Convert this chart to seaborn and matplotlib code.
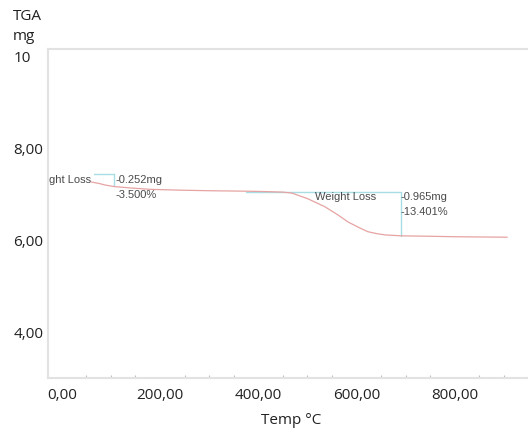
import matplotlib
matplotlib.use("Agg")
import matplotlib.pyplot as plt
from matplotlib.ticker import FixedLocator, FixedFormatter, MultipleLocator
import numpy as np
import pandas as pd
import seaborn as sns

# TGA trace: temperature (°C) and sample mass (mg)
temp_c = [60, 75, 90, 107, 140, 180, 250, 300, 375, 420, 450, 468, 500, 536,
          560, 583, 605, 623, 640, 658, 690, 750, 800, 850, 907]
mass_mg = [7.28, 7.25, 7.21, 7.18, 7.15, 7.12, 7.10, 7.09, 7.08, 7.07, 7.06,
           7.04, 6.92, 6.74, 6.58, 6.41, 6.29, 6.20, 6.16, 6.13, 6.11, 6.10,
           6.09, 6.085, 6.08]

# weight-loss steps: start/end temperature, level before the step, loss
step_t0 = [-40, 375]
step_t1 = [107, 690]
step_top = [7.45, 7.07]
step_loss_mg = [0.252, 0.965]
step_loss_pct = [3.500, 13.401]

y_ticks = [10, 8, 6, 4]
y_tick_labels = ["10", "8,00", "6,00", "4,00"]
x_ticks = [0, 200, 400, 600, 800]
x_tick_labels = ["0,00", "200,00", "400,00", "600,00", "800,00"]

sns.set_theme(style="white")
plt.rcParams["font.family"] = ["Open Sans", "DejaVu Sans"]

fig = plt.figure(figsize=(5.28, 4.28), dpi=100)
ax = fig.add_axes([48 / 528, 1 - 378 / 428, 1 - 48 / 528 + 0.01, (378 - 49) / 428])

df = pd.DataFrame({"Temp": temp_c, "Mass": mass_mg})
sns.lineplot(data=df, x="Temp", y="Mass", ax=ax, color="#e6a3a3", linewidth=0.9,
             zorder=6)

box_color = "#a8dde3"
text_color = "#4a4a4a"
ann_font = ["Liberation Sans", "DejaVu Sans"]
ann_size = 8
for t0, t1, top, loss, pct in zip(step_t0, step_t1, step_top, step_loss_mg, step_loss_pct):
    bottom = top - loss
    ax.plot([t0, t1], [top, top], color=box_color, lw=1.0, clip_on=True)
    ax.plot([t1, t1], [top, bottom], color=box_color, lw=1.0, clip_on=True)

# step annotations
ax.text(60, 7.33, "Weight Loss", ha="right", va="center", fontsize=ann_size,
        color=text_color, family=ann_font, clip_on=True, zorder=5,
        bbox=dict(facecolor="white", edgecolor="none", pad=2))
ax.text(109, 7.33, f"-{step_loss_mg[0]:.3f}mg", ha="left", va="center",
        fontsize=ann_size, color=text_color, family=ann_font)
ax.text(109, 7.00, f"-{step_loss_pct[0]:.3f}%", ha="left", va="center",
        fontsize=ann_size, color=text_color, family=ann_font)
ax.text(577, 6.96, "Weight Loss", ha="center", va="center", fontsize=ann_size,
        color=text_color, family=ann_font)
ax.text(690, 6.96, f"-{step_loss_mg[1]:.3f}mg", ha="left", va="center",
        fontsize=ann_size, color=text_color, family=ann_font)
ax.text(690, 6.62, f"-{step_loss_pct[1]:.3f}%", ha="left", va="center",
        fontsize=ann_size, color=text_color, family=ann_font)

ax.set_xlim(-28, 960)
ax.set_ylim(3.02, 10.17)

ax.yaxis.set_major_locator(FixedLocator(y_ticks))
ax.yaxis.set_major_formatter(FixedFormatter(y_tick_labels))
ax.xaxis.set_major_locator(FixedLocator(x_ticks))
ax.xaxis.set_major_formatter(FixedFormatter(x_tick_labels))
ax.xaxis.set_minor_locator(MultipleLocator(50))

label_size = 11
ax.tick_params(axis="y", length=0, pad=25, labelsize=label_size, labelcolor="#222222")
for lbl in ax.get_yticklabels():
    lbl.set_horizontalalignment("left")
ax.tick_params(axis="x", which="major", length=0, pad=7, labelsize=label_size,
               labelcolor="#222222")
ax.tick_params(axis="x", which="minor", bottom=True, direction="in", length=2,
               width=0.8, color="#bdbdbd")

ax.set_xlabel("Temp °C", fontsize=label_size, color="#222222", labelpad=7.5)
ax.set_ylabel("")

for side in ["left", "bottom", "top"]:
    ax.spines[side].set_visible(True)
    ax.spines[side].set_color("#e2e2e2")
    ax.spines[side].set_linewidth(1.5)
    ax.spines[side].set_zorder(7)
ax.spines["right"].set_visible(False)

fig.text(13 / 528, 1 - 17 / 428, "TGA", fontsize=label_size, color="#222222", va="center")
fig.text(13 / 528, 1 - 37 / 428, "mg", fontsize=label_size, color="#222222", va="center")

fig.savefig("out.png", dpi=100, facecolor="white")
